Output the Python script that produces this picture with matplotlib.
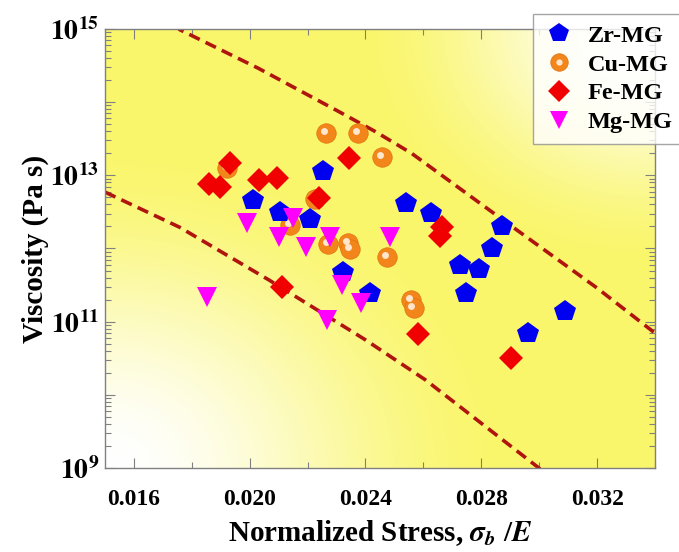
import numpy as np
import matplotlib
matplotlib.use('Agg')
import matplotlib.pyplot as plt
from matplotlib import transforms
from matplotlib.ticker import FixedLocator, FuncFormatter, MultipleLocator, NullFormatter

# data
zr_x = [0.02013, 0.02105, 0.02209, 0.02253, 0.02322, 0.02415, 0.02539, 0.02628,
        0.02728, 0.02793, 0.02748, 0.02838, 0.02872, 0.02961, 0.03089]
zr_eta = [4.6e12, 3.2e12, 2.5e12, 1.15e13, 4.7e11, 2.5e11, 4.2e12, 3.1e12,
          5.9e11, 5.2e11, 2.5e11, 1.02e12, 2.0e12, 7.1e10, 1.4e11]

cu_x = [0.01923, 0.02226, 0.02264, 0.02374, 0.02456, 0.0214, 0.0227, 0.02339,
        0.02346, 0.02473, 0.02556, 0.02566]
cu_eta = [1.26e13, 4.8e12, 3.8e13, 3.8e13, 1.8e13, 2.1e12, 1.15e12, 1.2e12,
          9.8e11, 7.6e11, 2.0e11, 1.55e11]

fe_x = [0.01858, 0.01896, 0.01933, 0.02033, 0.02095, 0.02239, 0.02343, 0.02112,
        0.02666, 0.02659, 0.02583, 0.02903]
fe_eta = [7.6e12, 6.9e12, 1.48e13, 8.7e12, 9.1e12, 4.9e12, 1.74e13, 2.95e11,
          1.95e12, 1.5e12, 6.8e10, 3.2e10]

mg_x = [0.01992, 0.0215, 0.02102, 0.02195, 0.02277, 0.02484, 0.02319, 0.02384,
        0.02267, 0.01854]
mg_eta = [2.2e12, 2.6e12, 1.45e12, 1.05e12, 1.45e12, 1.45e12, 3.2e11, 1.8e11,
          1.05e11, 2.2e11]

# bounding dashed curves
up_x = [0.01740, 0.01758, 0.0203, 0.02298, 0.02432, 0.02559, 0.02872, 0.03199, 0.0341]
up_eta = [1.15e15, 9.8e14, 2.9e14, 7.8e13, 4.0e13, 2.0e13, 2.5e12, 2.9e11, 6.5e10]
lo_x = [0.0150, 0.01758, 0.02067, 0.02401, 0.02607, 0.02999, 0.0302]
lo_eta = [5.9e12, 1.95e12, 3.7e11, 5.6e10, 1.6e10, 1.0e9, 8.5e8]

plt.rcParams['font.family'] = ['Liberation Serif', 'DejaVu Serif']
plt.rcParams['font.weight'] = 'bold'
plt.rcParams['mathtext.fontset'] = 'stix'

fig = plt.figure(figsize=(6.79, 5.52), dpi=100)
ax = fig.add_axes([0.1546, 0.1522, 0.8100, 0.7953])

# yellow background gradient (pale in lower-left and upper-right corners)
gx, gy = np.meshgrid(np.linspace(0, 1, 300), np.linspace(0, 1, 300))
d_ll = np.sqrt(gx**2 + gy**2)
d_ur = np.sqrt((1 - gx)**2 + (1 - gy)**2)
s = np.clip(d_ll / 0.75, 0, 1) * np.clip(d_ur / 0.55, 0, 1)
s = s * s * (3 - 2 * s)
yellow = np.array([0.98, 0.965, 0.42])
img = (1 - s[..., None]) * np.ones(3) + s[..., None] * yellow
ax.imshow(img, extent=[0, 1, 0, 1], origin='lower', transform=ax.transAxes,
          aspect='auto', zorder=0)

ax.set_yscale('log')
ax.set_xlim(0.015, 0.034)
ax.set_ylim(1e9, 1e15)

dash_kw = dict(color='#B0140F', lw=2.6, dashes=(3.2, 1.8), zorder=2)
ax.plot(up_x, up_eta, **dash_kw)
ax.plot(lo_x, lo_eta, **dash_kw)

# Cu spheres: orange disc plus a light highlight
hl = ax.transData + transforms.ScaledTranslation(-1.5/72, 1.5/72, fig.dpi_scale_trans)
cu1, = ax.plot(cu_x, cu_eta, 'o', ms=14, color='#F2861A', mec='#E07010', mew=0.5,
               ls='none', zorder=3)
cu2, = ax.plot(cu_x, cu_eta, 'o', ms=5, color='#FFE6CC', mew=0, ls='none',
               transform=hl, zorder=3)
zr, = ax.plot(zr_x, zr_eta, 'p', ms=16, color='#0000F0', mew=0, ls='none', zorder=4)
fe, = ax.plot(fe_x, fe_eta, 'D', ms=12, color='#F00000', mew=0, ls='none', zorder=4)
mg, = ax.plot(mg_x, mg_eta, 'v', ms=15, color='#FF00FF', mew=0, ls='none', zorder=5)

# ticks
ax.xaxis.set_major_locator(FixedLocator([0.016, 0.020, 0.024, 0.028, 0.032]))
ax.xaxis.set_minor_locator(MultipleLocator(0.002))
ax.xaxis.set_major_formatter(FuncFormatter(lambda v, p: f'{v:.3f}'))
ax.yaxis.set_major_locator(FixedLocator([10.0**k for k in range(9, 16)]))
minor = [m * 10.0**k for k in range(9, 15) for m in range(2, 10)]
ax.yaxis.set_minor_locator(FixedLocator(minor))
ax.yaxis.set_minor_formatter(NullFormatter())


def ylab(v, p):
    k = int(round(np.log10(v)))
    if k % 2 == 0:
        return ''
    return r'$\mathbf{10^{%d}}$' % k


ax.yaxis.set_major_formatter(FuncFormatter(ylab))
ax.tick_params(which='both', direction='in', top=True, right=True, color='#808080')
ax.tick_params(which='major', length=7, width=0.8)
ax.tick_params(which='minor', length=4, width=0.8)
ax.tick_params(axis='x', labelsize=17, pad=15)
ax.tick_params(axis='y', labelsize=20, pad=4)
for sp in ax.spines.values():
    sp.set_color('#808080')
    sp.set_linewidth(1.0)

ax.set_ylabel('Viscosity (Pa s)', fontsize=21, fontweight='bold', labelpad=1)
ax.set_xlabel(r'Normalized Stress, $\sigma_b$ /$\mathit{E}$', fontsize=21,
              fontweight='bold', labelpad=6)

leg = fig.legend([zr, (cu1, cu2), fe, mg], ['Zr-MG', 'Cu-MG', 'Fe-MG', 'Mg-MG'],
                 loc='upper left', bbox_to_anchor=(0.785, 0.975), fontsize=17.5,
                 frameon=True, fancybox=False, edgecolor='#909090',
                 handlelength=1.2, handletextpad=0.6, labelspacing=0.28,
                 borderpad=0.45, borderaxespad=0, markerscale=0.9)
leg.get_frame().set_linewidth(1.0)

fig.savefig('out.png', dpi=100)
